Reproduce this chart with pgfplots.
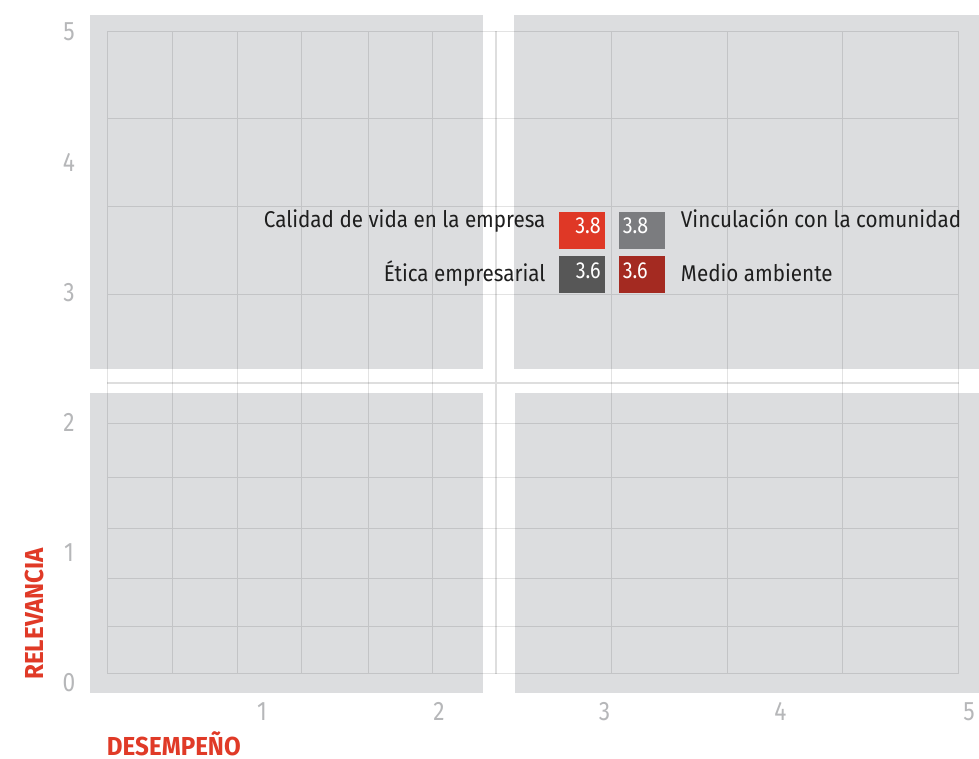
\documentclass[border=0pt]{standalone}
\usepackage{pgfplots}
\pgfplotsset{compat=1.18}
\usepackage{fontspec}
\setmainfont{Fira Sans}[FakeStretch=0.905]
\newfontfamily\numfont{Fira Sans}[FakeStretch=0.85]
\newfontfamily\titlefont{Fira Sans}[FakeStretch=0.93]
\definecolor{quad}{HTML}{DCDDDF}
\definecolor{titlered}{HTML}{E03A27}
\definecolor{boxred}{HTML}{DF3826}
\definecolor{boxgray}{HTML}{7B7C7F}
\definecolor{boxdark}{HTML}{575757}
\definecolor{boxdarkred}{HTML}{A42A21}
\definecolor{labtext}{HTML}{1E1E1E}
\definecolor{ticktext}{HTML}{B6B7B9}
\begin{document}
\begin{tikzpicture}
\begin{axis}[
  scale only axis, width=734.25pt, height=569.25pt,
  xmin=0, xmax=979, ymin=0, ymax=759, y dir=reverse,
  hide axis, clip=false, unbounded coords=jump,
]
% background
\addplot[fill=white, draw=none] coordinates {(0,0)(979,0)(979,759)(0,759)} -- cycle;
% quadrants
\addplot[fill=quad, draw=none] coordinates {(90,15)(483,15)(483,369)(90,369)} -- cycle;
\addplot[fill=quad, draw=none] coordinates {(514,15)(979,15)(979,369)(514,369)} -- cycle;
\addplot[fill=quad, draw=none] coordinates {(90,393)(483,393)(483,693)(90,693)} -- cycle;
\addplot[fill=quad, draw=none] coordinates {(515,393)(979,393)(979,693)(515,693)} -- cycle;
% grid
\addplot[draw=black, draw opacity=0.11, line width=0.75pt] coordinates {
(107,31.3)(107,673.7) (nan,nan)
(172,31.3)(172,673.7) (nan,nan)
(237,31.3)(237,673.7) (nan,nan)
(301.5,31.3)(301.5,673.7) (nan,nan)
(368,31.3)(368,673.7) (nan,nan)
(432.5,31.3)(432.5,673.7) (nan,nan)
(611.5,31.3)(611.5,673.7) (nan,nan)
(727,31.3)(727,673.7) (nan,nan)
(842.5,31.3)(842.5,673.7) (nan,nan)
(958,31.3)(958,673.7) (nan,nan)
(107,31.3)(959,31.3) (nan,nan)
(107,119)(959,119) (nan,nan)
(107,207)(959,207) (nan,nan)
(107,295)(959,295) (nan,nan)
(107,423.3)(959,423.3) (nan,nan)
(107,477.7)(959,477.7) (nan,nan)
(107,528.3)(959,528.3) (nan,nan)
(107,578.7)(959,578.7) (nan,nan)
(107,626.3)(959,626.3) (nan,nan)
(107,673.7)(959,673.7)
};
\addplot[draw=black, draw opacity=0.13, line width=1.1pt] coordinates {
(496,31.3)(496,673.7) (nan,nan)
(107,383)(959,383)
};
% value boxes
\addplot[fill=boxred, draw=none] coordinates {(559,212)(605,212)(605,248.7)(559,248.7)} -- cycle;
\addplot[fill=boxgray, draw=none] coordinates {(619,212)(665,212)(665,248.7)(619,248.7)} -- cycle;
\addplot[fill=boxdark, draw=none] coordinates {(559,256)(605,256)(605,292.7)(559,292.7)} -- cycle;
\addplot[fill=boxdarkred, draw=none] coordinates {(619,256)(665,256)(665,292.7)(619,292.7)} -- cycle;
% values
\pgfplotsset{valstyle/.style={draw=none, mark=none, nodes near coords, point meta=explicit symbolic,
  nodes near coords style={text=white, inner sep=0pt, font=\numfont\fontsize{17.4pt}{20pt}\selectfont}}}
\addplot[valstyle, nodes near coords style={anchor=base east}] coordinates {(601,233.5)[3.8]};
\addplot[valstyle, nodes near coords style={anchor=base west}] coordinates {(622.5,233.5)[3.8]};
\addplot[valstyle, nodes near coords style={anchor=base east}] coordinates {(601,278.5)[3.6]};
\addplot[valstyle, nodes near coords style={anchor=base west}] coordinates {(622.5,278.5)[3.6]};
% category labels
\begin{scope}[every node/.style={inner sep=0pt, text=labtext, font=\fontsize{17.1pt}{20pt}\selectfont}]
\node[anchor=base east] at (axis cs:545.7,227.7) {Calidad de vida en la empresa};
\node[anchor=base east] at (axis cs:545.7,281.7) {Ética empresarial};
\node[anchor=base west] at (axis cs:680.7,227.7) {Vinculación con la comunidad};
\node[anchor=base west] at (axis cs:680.7,281.7) {Medio ambiente};
\end{scope}
% tick labels
\begin{scope}[every node/.style={inner sep=0pt, text=ticktext, font=\numfont\fontsize{20pt}{24pt}\selectfont}]
\node[anchor=base] at (axis cs:69,40.7) {5};
\node[anchor=base] at (axis cs:69,171.7) {4};
\node[anchor=base] at (axis cs:69,301.7) {3};
\node[anchor=base] at (axis cs:69,431.7) {2};
\node[anchor=base] at (axis cs:69,561.7) {1};
\node[anchor=base] at (axis cs:69,691.7) {0};
\node[anchor=base] at (axis cs:262,720) {1};
\node[anchor=base] at (axis cs:439,720) {2};
\node[anchor=base] at (axis cs:604.5,720) {3};
\node[anchor=base] at (axis cs:780.5,720) {4};
\node[anchor=base] at (axis cs:969,720) {5};
\end{scope}
% axis titles
\node[anchor=base west, inner sep=0pt, text=titlered, font=\titlefont\bfseries\fontsize{19.5pt}{22pt}\selectfont] at (axis cs:106.7,755) {DESEMPEÑO};
\node[anchor=base west, rotate=90, inner sep=0pt, text=titlered, font=\titlefont\bfseries\fontsize{19.5pt}{22pt}\selectfont] at (axis cs:43.3,680) {RELEVANCIA};
\end{axis}
\end{tikzpicture}
\end{document}
